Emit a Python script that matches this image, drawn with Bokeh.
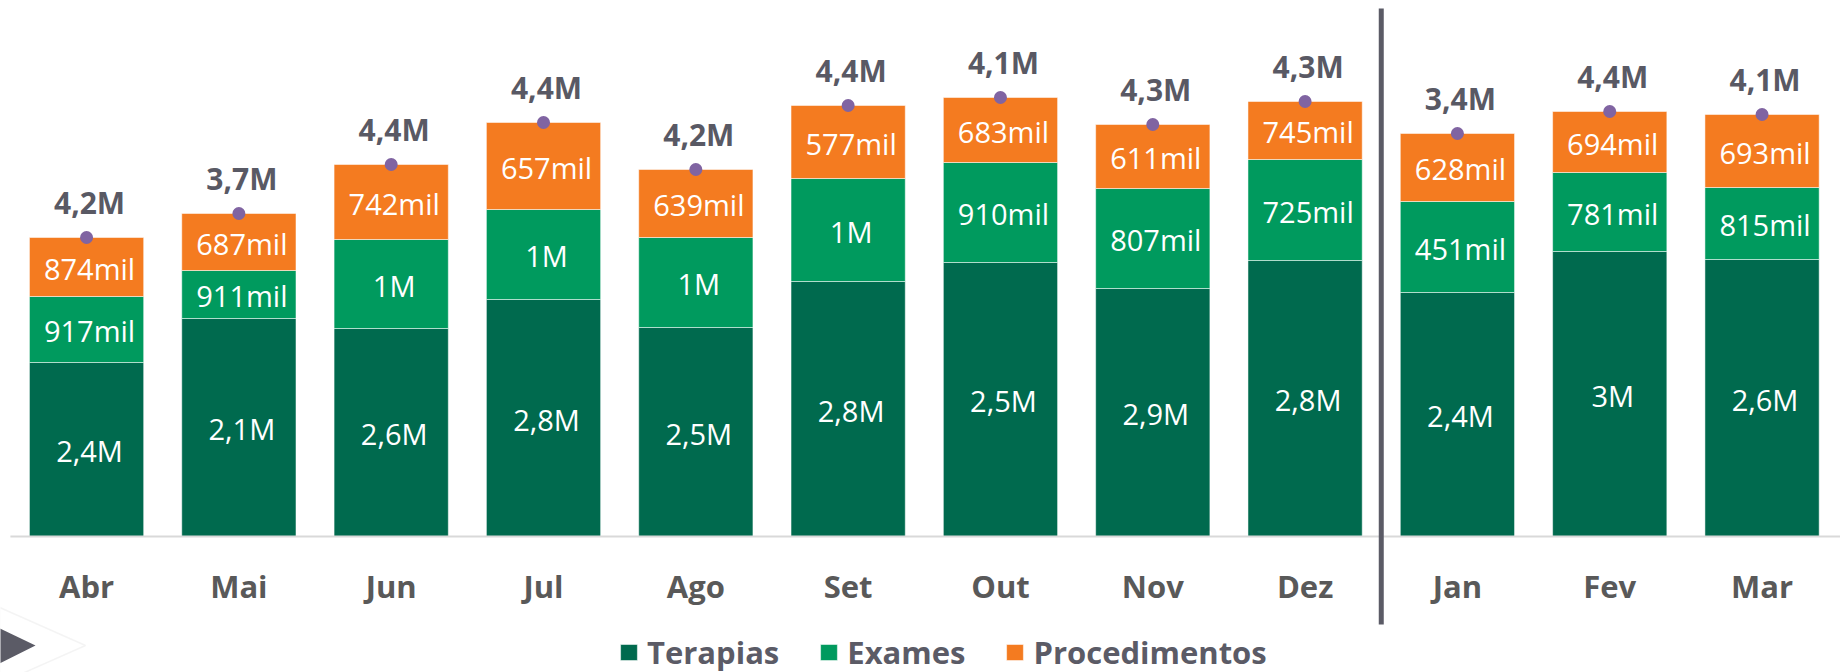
from bokeh.plotting import figure
from bokeh.models import ColumnDataSource, Range1d, PolyAnnotation
from bokeh.core.properties import value
from bokeh.embed import file_html
from bokeh.resources import INLINE

# ---- data ----
months = ["Abr", "Mai", "Jun", "Jul", "Ago", "Set", "Out", "Nov", "Dez", "Jan", "Fev", "Mar"]
series = ["Terapias", "Exames", "Procedimentos"]

# bar segment heights as drawn in the picture (chart units)
terapias_alt = [174, 218, 208, 237, 209, 255, 274, 248, 276, 244, 285, 277]
exames_alt = [66, 48, 89, 90, 90, 103, 100, 100, 101, 91, 79, 72]
proced_alt = [59, 57, 75, 87, 68, 73, 65, 64, 58, 68, 61, 73]

# printed data labels
terapias_lbl = ["2,4M", "2,1M", "2,6M", "2,8M", "2,5M", "2,8M", "2,5M", "2,9M", "2,8M", "2,4M", "3M", "2,6M"]
exames_lbl = ["917mil", "911mil", "1M", "1M", "1M", "1M", "910mil", "807mil", "725mil", "451mil", "781mil", "815mil"]
proced_lbl = ["874mil", "687mil", "742mil", "657mil", "639mil", "577mil", "683mil", "611mil", "745mil", "628mil", "694mil", "693mil"]
total_lbl = ["4,2M", "3,7M", "4,4M", "4,4M", "4,2M", "4,4M", "4,1M", "4,3M", "4,3M", "3,4M", "4,4M", "4,1M"]

year_break = months.index("Jan")   # separator between the two years

# ---- styles ----
C_DARK = "#006A4E"
C_GREEN = "#009A5E"
C_ORANGE = "#F47B20"
C_DOT = "#8064A2"
C_TEXT = "#595964"
C_AXIS = "#595959"
C_LINE = "#5B5B66"
FONT = "Open Sans"

# ---- derived positions ----
n = len(months)
xc = [i + 0.5 for i in range(n)]
e_top = [a + b for a, b in zip(terapias_alt, exames_alt)]
total = [e + c for e, c in zip(e_top, proced_alt)]
t_mid = [a / 2 for a in terapias_alt]
e_mid = [a + b / 2 for a, b in zip(terapias_alt, exames_alt)]
p_mid = [e + c / 2 for e, c in zip(e_top, proced_alt)]

src = ColumnDataSource(dict(
    xc=xc, mes=months, Terapias=terapias_alt, Exames=exames_alt, Procedimentos=proced_alt,
    t_mid=t_mid, e_mid=e_mid, p_mid=p_mid, total=total,
    t_lbl=terapias_lbl, e_lbl=exames_lbl, p_lbl=proced_lbl, tot_lbl=total_lbl,
))

W, H = 1840, 672
LEFT_PAD = 0.065
x_end = n + 0.015
Y_TOP, Y_BOTTOM = 536, -136

p = figure(
    x_range=Range1d(-LEFT_PAD, x_end), y_range=Range1d(Y_BOTTOM, Y_TOP),
    width=W, height=H, output_backend="svg", toolbar_location=None,
    min_border=0,
)
p.outline_line_color = None
p.grid.visible = False
p.axis.visible = False

rs = p.vbar_stack(series, x="xc", width=0.75, color=[C_DARK, C_GREEN, C_ORANGE],
                  source=src, legend_label=series, line_color="white", line_width=1, line_alpha=0.5)

# baseline (category axis line)
p.segment(x0=[0], y0=[0], x1=[n + 0.5], y1=[0], line_color="#D9D9D9", line_width=2)

# category labels
p.text(x=xc, y=[-49] * n, text=months, text_align="center", text_baseline="middle",
       text_color=C_AXIS, text_font=value(FONT), text_font_style="bold", text_font_size="31px")

# segment labels
for col_y, col_t in (("t_mid", "t_lbl"), ("e_mid", "e_lbl"), ("p_mid", "p_lbl")):
    p.text(x="xc", y=col_y, text=col_t, source=src, text_align="center", text_baseline="middle",
           text_color="white", text_font=value(FONT), text_font_size="29px", x_offset=3, y_offset=1)

# totals
p.scatter(x="xc", y="total", source=src, size=13, color=C_DOT, line_color=None)
p.text(x="xc", y="total", text="tot_lbl", source=src, text_align="center", text_baseline="middle",
       text_color=C_TEXT, text_font=value(FONT), text_font_style="bold", text_font_size="30px",
       x_offset=3, y_offset=-35)

# year separator line
p.segment(x0=[year_break], y0=[-88], x1=[year_break], y1=[528], line_color=C_LINE, line_width=5)

# decorative arrow (bottom-left)
p.add_layout(PolyAnnotation(xs=[-0.07, 0.493, -0.07], ys=[-71, -109, -147],
                            fill_alpha=0, line_color="#D9D9D9", line_width=1.5))
p.add_layout(PolyAnnotation(xs=[-0.07, 0.165, -0.07], ys=[-92, -109, -127],
                            fill_color=C_LINE, fill_alpha=1, line_color=None))

# legend
lg = p.legend[0]
lg.location = (618, -1)
lg.orientation = "horizontal"
lg.glyph_width = 21
lg.glyph_height = 20
lg.label_standoff = 8
lg.spacing = 39
lg.padding = 0
lg.margin = 0
lg.border_line_color = None
lg.background_fill_alpha = 0
lg.label_text_font = FONT
lg.label_text_font_style = "bold"
lg.label_text_font_size = "31px"
lg.label_text_color = C_LINE

open("out.html", "w").write(file_html(p, INLINE))
